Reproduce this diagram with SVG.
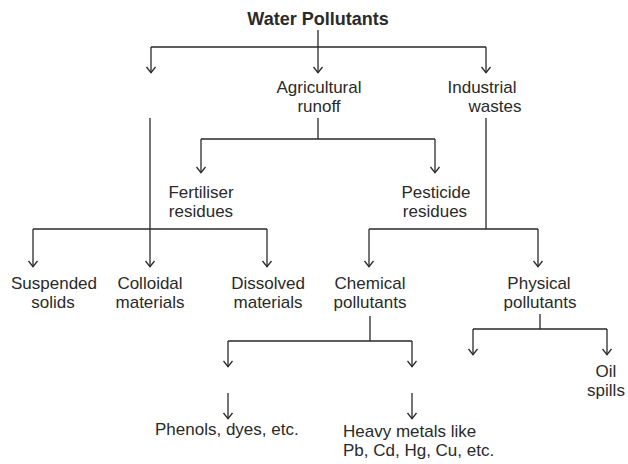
<svg xmlns="http://www.w3.org/2000/svg" width="628" height="464" viewBox="0 0 628 464">
<defs>
<marker id="ah" viewBox="0 0 12 8" refX="6" refY="7.5" markerWidth="12" markerHeight="8" markerUnits="userSpaceOnUse" orient="0">
<polyline points="1.5,1.5 6,7.2 10.5,1.5" fill="none" stroke="#2a2a2a" stroke-width="1.3"/>
</marker>
<style>
.t{font-family:"Liberation Sans",Arial,sans-serif;font-size:17px;fill:#2a2a2a;text-anchor:middle}
.b{font-weight:bold;font-size:18px}
.s{text-anchor:start}
.c{fill:none;stroke:#2a2a2a;stroke-width:1.3}
.a{marker-end:url(#ah)}
</style>
</defs>
<rect width="628" height="464" fill="#ffffff"/>
<g id="connectors">
<path class="c" d="M318,30 V47 M151,47 H486"/>
<path class="c a" d="M151,47 V73"/>
<path class="c a" d="M318,47 V73"/>
<path class="c a" d="M486,47 V73"/>
<path class="c a" d="M150,118 V267"/>
<path class="c" d="M318,118 V139 M201,139 H435"/>
<path class="c a" d="M201,139 V173"/>
<path class="c a" d="M435,139 V173"/>
<path class="c" d="M486,118 V229 M369,229 H538"/>
<path class="c a" d="M369,229 V267"/>
<path class="c a" d="M538,229 V267"/>
<path class="c" d="M33,229 H267"/>
<path class="c a" d="M33,229 V267"/>
<path class="c a" d="M267,229 V267"/>
<path class="c" d="M370,316 V341 M228,341 H412"/>
<path class="c a" d="M228,341 V367"/>
<path class="c a" d="M412,341 V367"/>
<path class="c a" d="M228,393 V419"/>
<path class="c a" d="M412,393 V419"/>
<path class="c" d="M540,314 V329 M473,329 H607"/>
<path class="c a" d="M473,329 V355"/>
<path class="c a" d="M607,329 V355"/>
</g>
<g id="water-pollutants"><text class="t b" x="318" y="25">Water Pollutants</text></g>
<g id="agricultural-runoff"><text class="t" x="319" y="93">Agricultural</text><text class="t" x="319" y="112">runoff</text></g>
<g id="industrial-wastes"><text class="t" x="482" y="93">Industrial</text><text class="t" x="495" y="112">wastes</text></g>
<g id="fertiliser-residues"><text class="t" x="201" y="198">Fertiliser</text><text class="t" x="201" y="217">residues</text></g>
<g id="pesticide-residues"><text class="t" x="436" y="198">Pesticide</text><text class="t" x="435" y="217">residues</text></g>
<g id="suspended-solids"><text class="t" x="54" y="289">Suspended</text><text class="t" x="53" y="308">solids</text></g>
<g id="colloidal-materials"><text class="t" x="150" y="289">Colloidal</text><text class="t" x="150" y="308">materials</text></g>
<g id="dissolved-materials"><text class="t" x="268" y="289">Dissolved</text><text class="t" x="268" y="308">materials</text></g>
<g id="chemical-pollutants"><text class="t" x="370" y="289">Chemical</text><text class="t" x="370" y="308">pollutants</text></g>
<g id="physical-pollutants"><text class="t" x="539" y="289">Physical</text><text class="t" x="540" y="308">pollutants</text></g>
<g id="oil-spills"><text class="t" x="606" y="377">Oil</text><text class="t" x="606" y="396">spills</text></g>
<g id="phenols-dyes"><text class="t s" x="155" y="435">Phenols, dyes, etc.</text></g>
<g id="heavy-metals"><text class="t s" x="343" y="437">Heavy metals like</text><text class="t s" x="343" y="456">Pb, Cd, Hg, Cu, etc.</text></g>
</svg>
